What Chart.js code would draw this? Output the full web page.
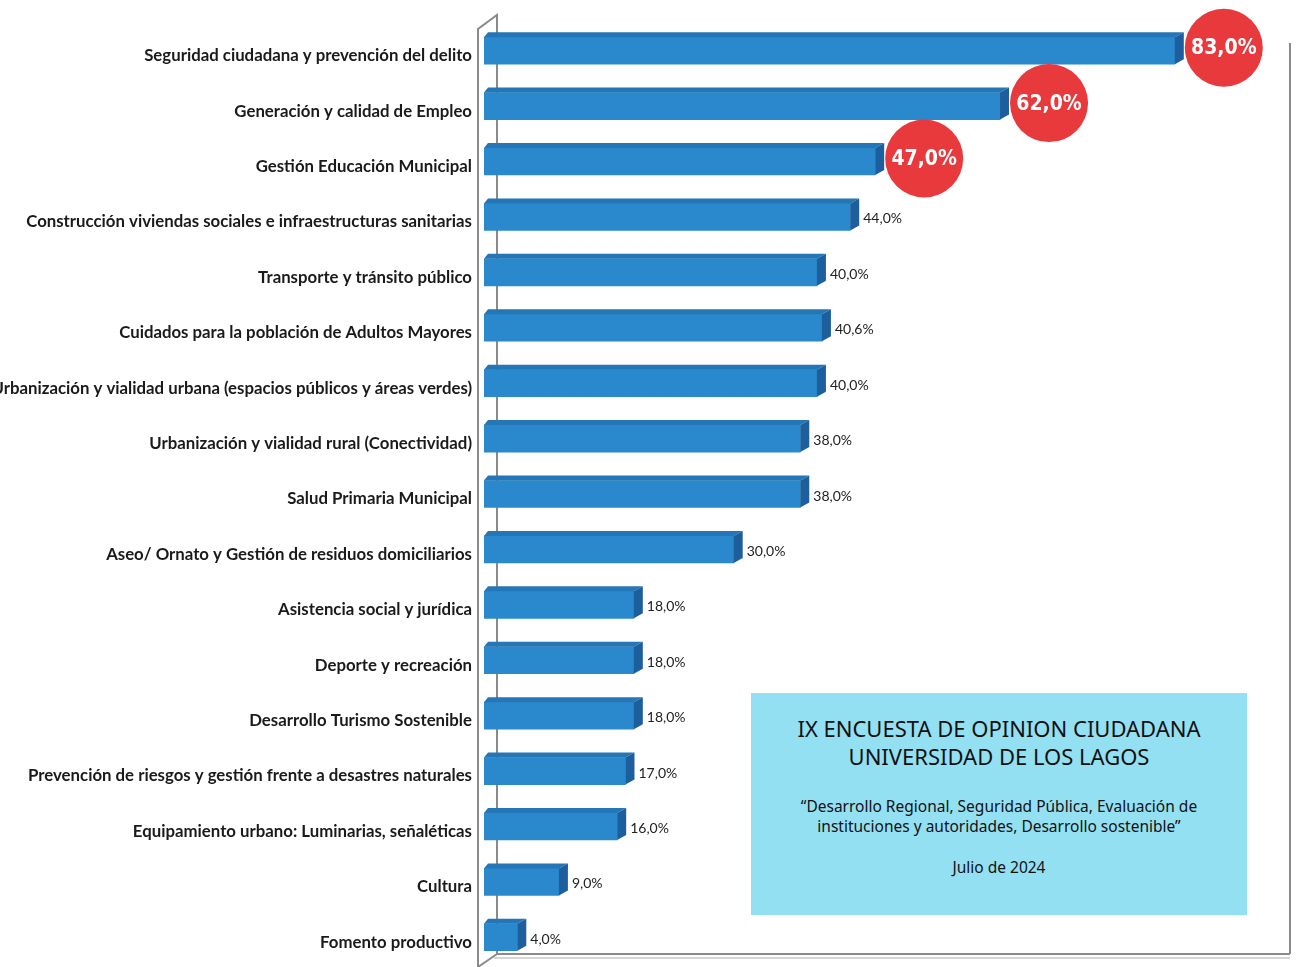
<!DOCTYPE html>
<html>
<head>
<meta charset="utf-8">
<script src="https://cdn.jsdelivr.net/npm/chart.js@4.4.1/dist/chart.umd.min.js"></script>
<style>
  html, body { margin: 0; padding: 0; background: #fff; }
  #wrap { position: relative; width: 1298px; height: 967px; overflow: hidden; }
  #info {
    position: absolute; left: 751px; top: 693px; width: 496px; height: 222px;
    background: #94e0f3; color: #111; text-align: center;
    font-family: "Noto Sans", sans-serif;
  }
  #info .t { font-size: 22px; line-height: 28px; margin-top: 21px; }
  #info .s { font-size: 15.5px; line-height: 20px; margin-top: 26px; }
  #info .d { font-size: 15.5px; margin-top: 20px; }
</style>
</head>
<body>
<div id="wrap">
  <canvas id="chart" width="1298" height="967"></canvas>
  <div id="info">
    <div class="t">IX ENCUESTA DE OPINION CIUDADANA<br>UNIVERSIDAD DE LOS LAGOS</div>
    <div class="s">“Desarrollo Regional, Seguridad Pública, Evaluación de<br>instituciones y autoridades, Desarrollo sostenible”</div>
    <div class="d">Julio de 2024</div>
  </div>
</div>
<script>
// Datos
const categorias = [
  'Seguridad ciudadana y prevención del delito',
  'Generación y calidad de Empleo',
  'Gestión Educación Municipal',
  'Construcción viviendas sociales e infraestructuras sanitarias',
  'Transporte y tránsito público',
  'Cuidados para la población de Adultos Mayores',
  'Urbanización y vialidad urbana (espacios públicos y áreas verdes)',
  'Urbanización y vialidad rural (Conectividad)',
  'Salud Primaria Municipal',
  'Aseo/ Ornato y Gestión de residuos domiciliarios',
  'Asistencia social y jurídica',
  'Deporte y recreación',
  'Desarrollo Turismo Sostenible',
  'Prevención de riesgos y gestión frente a desastres naturales',
  'Equipamiento urbano: Luminarias, señaléticas',
  'Cultura',
  'Fomento productivo'
];
const porcentajes = [83, 62, 47, 44, 40, 40.6, 40, 38, 38, 30, 18, 18, 18, 17, 16, 9, 4];
const destacados = 3; // los tres primeros van en círculo rojo

const DX = 9, DY = -5;

function etiqueta(v) {
  return v.toFixed(1).replace('.', ',') + '%';
}

// paredes 3D del gráfico
const paredes = {
  id: 'paredes',
  beforeDatasetsDraw(chart) {
    const { ctx, chartArea: a } = chart;
    const fx = a.left - 6, bx = a.left + 13;
    const topF = 29, topB = 15, floor = 954, right = 1290;
    ctx.save();
    ctx.strokeStyle = '#8a8a8a';
    ctx.lineWidth = 2;
    ctx.beginPath();
    ctx.moveTo(fx, 967); ctx.lineTo(fx, topF); ctx.lineTo(bx, topB);
    ctx.lineTo(bx, floor); ctx.lineTo(right, floor);
    ctx.moveTo(fx, 967); ctx.lineTo(bx, floor);
    ctx.moveTo(right, topB + 28); ctx.lineTo(right, floor);
    ctx.stroke();
    ctx.strokeStyle = '#c8c8c8';
    ctx.lineWidth = 1.5;
    ctx.beginPath();
    ctx.moveTo(bx - 3, floor + 4); ctx.lineTo(right, floor + 4);
    ctx.stroke();
    ctx.restore();
  }
};

// caras superior y lateral de las barras + etiquetas
const barras3d = {
  id: 'barras3d',
  afterDatasetsDraw(chart) {
    const { ctx } = chart;
    const meta = chart.getDatasetMeta(0);
    ctx.save();
    meta.data.forEach((bar, i) => {
      const h = bar.height, top = bar.y - h / 2, bot = bar.y + h / 2;
      // cara superior
      ctx.fillStyle = '#2476b6';
      ctx.beginPath();
      ctx.moveTo(bar.base, top); ctx.lineTo(bar.x, top);
      ctx.lineTo(bar.x + DX, top + DY); ctx.lineTo(bar.base + DX - 5, top + DY);
      ctx.closePath(); ctx.fill();
      // cara lateral
      ctx.fillStyle = '#1c5f9c';
      ctx.beginPath();
      ctx.moveTo(bar.x, top); ctx.lineTo(bar.x + DX, top + DY);
      ctx.lineTo(bar.x + DX, bot + DY); ctx.lineTo(bar.x, bot);
      ctx.closePath(); ctx.fill();

      const txt = etiqueta(porcentajes[i]);
      if (i < destacados) {
        const cx = bar.x + 49, cy = bar.y - 3;
        ctx.fillStyle = '#e8393c';
        ctx.beginPath(); ctx.arc(cx, cy, 39, 0, Math.PI * 2); ctx.fill();
        ctx.fillStyle = '#fff';
        ctx.font = 'bold 21px "DejaVu Sans Condensed", "DejaVu Sans", sans-serif';
        ctx.textAlign = 'center'; ctx.textBaseline = 'middle';
        ctx.fillText(txt, cx, cy + 1);
      } else {
        ctx.fillStyle = '#222';
        ctx.font = '14px Lato, sans-serif';
        ctx.textAlign = 'left'; ctx.textBaseline = 'middle';
        ctx.fillText(txt, bar.x + DX + 4, bar.y + 2);
      }
    });
    ctx.restore();
  }
};

new Chart(document.getElementById('chart').getContext('2d'), {
  type: 'bar',
  data: {
    labels: categorias,
    datasets: [{
      data: porcentajes,
      backgroundColor: '#2a88cc',
      barThickness: 27,
      borderWidth: 0
    }]
  },
  options: {
    indexAxis: 'y',
    responsive: false,
    animation: false,
    layout: { padding: { top: 23, bottom: 2, right: 15, left: 0 } },
    plugins: { legend: { display: false }, tooltip: { enabled: false } },
    scales: {
      x: { display: false, min: 0, max: 96 },
      y: {
        grid: { display: false, drawTicks: false },
        border: { display: false },
        ticks: {
          padding: 12,
          labelOffset: 5,
          color: '#1a1a1a',
          font: { family: 'Lato', size: 16.8, weight: 'bold' }
        },
        afterFit(scale) {
          scale.width = 484;
          scale.paddingTop = 0;
          scale.paddingBottom = 0;
        }
      }
    }
  },
  plugins: [paredes, barras3d]
});
</script>
</body>
</html>
